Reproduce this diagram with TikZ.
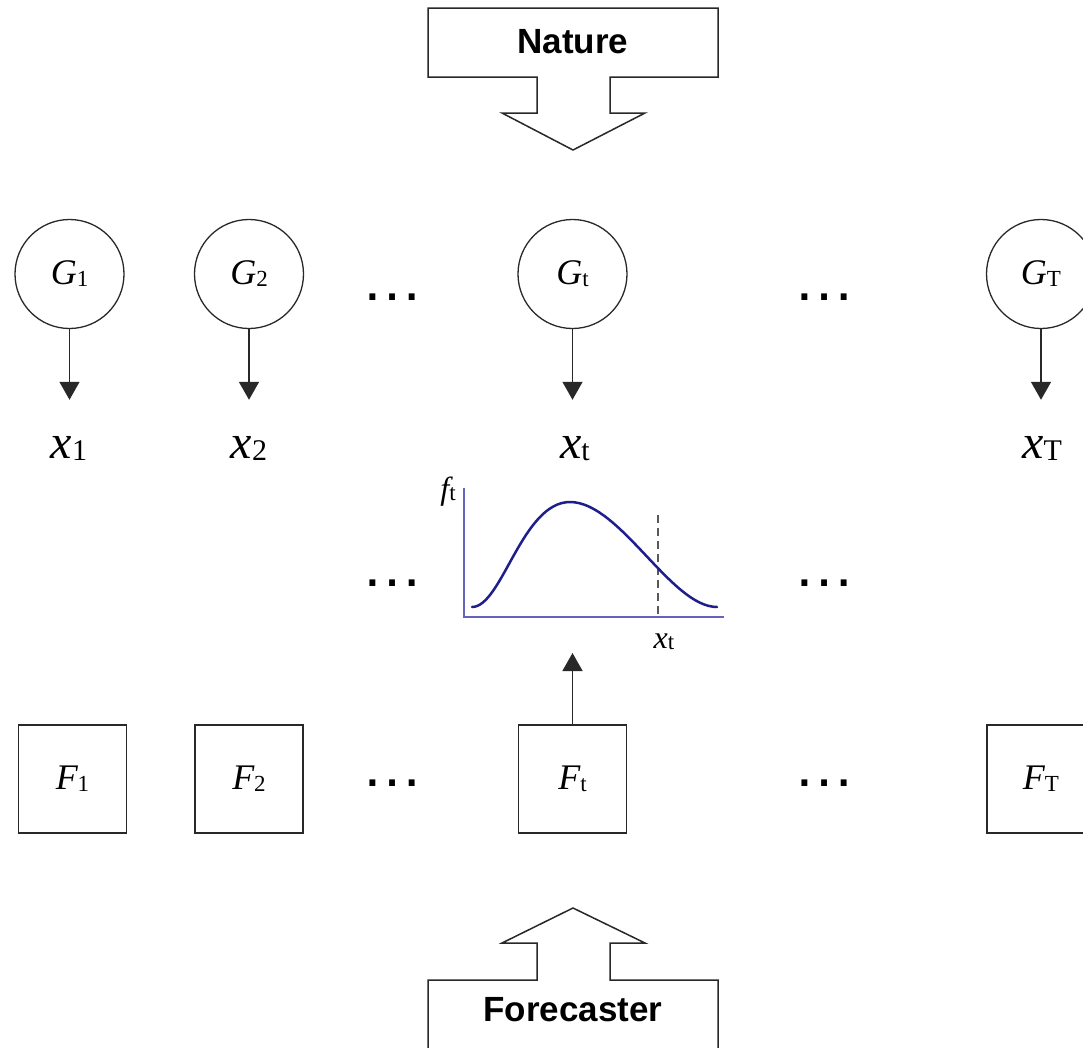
\documentclass[tikz,border=0pt]{standalone}
\usepackage{fontspec}
\setmainfont{Liberation Serif}
\newfontfamily\sansbold{Liberation Sans}
\usetikzlibrary{arrows.meta}
\newcommand{\bigsym}[2]{{\fontsize{48}{48}\selectfont\itshape #1}\raisebox{-2pt}{\fontsize{30}{30}\selectfont #2}}
\newcommand{\nodesym}[2]{{\fontsize{36}{36}\selectfont\itshape #1}\raisebox{-2pt}{\fontsize{23}{23}\selectfont #2}}
\newcommand{\smallsym}[2]{{\fontsize{32}{32}\selectfont\itshape #1}\raisebox{-1pt}{\fontsize{23}{23}\selectfont #2}}
\newcommand{\mydots}{{\sansbold\fontsize{62}{62}\selectfont …}}
\definecolor{axisblue}{RGB}{100,100,190}
\definecolor{curveblue}{RGB}{30,30,140}
\definecolor{linegray}{RGB}{40,40,40}
\tikzset{
  gnode/.style={circle, draw=linegray, line width=1.3pt, minimum size=109pt, inner sep=0pt},
  fnode/.style={rectangle, draw=linegray, line width=1.8pt, minimum size=108pt, inner sep=0pt},
  xlabel/.style={inner sep=0pt, anchor=base},
  dotsnode/.style={inner sep=0pt, anchor=base},
  arr/.style={line width=1.6pt, draw=linegray, -{Triangle[width=20pt,length=18pt]}},
  bigarrow/.style={draw=linegray, line width=1.5pt, fill=white, line join=miter},
  titletext/.style={font=\sansbold\bfseries\fontsize{35}{35}\selectfont, inner sep=0pt},
  axisline/.style={draw=axisblue, line width=2pt},
  curveline/.style={draw=curveblue, line width=2.5pt},
  dashline/.style={draw=black!65, line width=2pt, dash pattern=on 8pt off 5pt},
}
\begin{document}
\begin{tikzpicture}[x=1pt, y=-1pt]
\useasboundingbox (0,0) rectangle (1083,1047);
\clip (0,0) rectangle (1083,1047);
\fill[white] (0,0) rectangle (1083,1047);

% Nature block arrow
\draw[bigarrow] (428,8) -- (718,8) -- (718,77) -- (610,77) -- (610,113) -- (645,113)
  -- (573,150) -- (502,113) -- (537,113) -- (537,77) -- (428,77) -- cycle;
\node[titletext] (nature) at (573,42) {Nature};

% Forecaster block arrow
\draw[bigarrow] (428,1060) -- (428,980) -- (537,980) -- (537,943) -- (502,943)
  -- (573,908) -- (645,943) -- (610,943) -- (610,980) -- (718,980) -- (718,1060);
\node[titletext] (forecaster) at (573,1010) {Forecaster};

% G nodes
\node[gnode] (G1) at (69.5,274) {\nodesym{G}{1}};
\node[gnode] (G2) at (249,274) {\nodesym{G}{2}};
\node[gnode] (Gt) at (572.5,274) {\nodesym{G}{t}};
\node[gnode] (GT) at (1041,274) {\nodesym{G}{T}};

% x labels
\node[xlabel] (x1) at (69,458) {\bigsym{x}{1}};
\node[xlabel] (x2) at (249,458) {\bigsym{x}{2}};
\node[xlabel] (xt) at (575,458) {\bigsym{x}{t}};
\node[xlabel] (xT) at (1042,458) {\bigsym{x}{T}};

\draw[arr, shorten >=36pt] (G1.south) -- (G1.south |- x1.north);
\draw[arr, shorten >=36pt] (G2.south) -- (G2.south |- x2.north);
\draw[arr, shorten >=36pt] (Gt.south) -- (Gt.south |- xt.north);
\draw[arr, shorten >=36pt] (GT.south) -- (GT.south |- xT.north);

% dots
\node[dotsnode] (d1a) at (392,300) {\mydots};
\node[dotsnode] (d1b) at (824,300) {\mydots};
\node[dotsnode] (d2a) at (392,586) {\mydots};
\node[dotsnode] (d2b) at (824,586) {\mydots};
\node[dotsnode] (d3a) at (392,786) {\mydots};
\node[dotsnode] (d3b) at (824,786) {\mydots};

% density plot
\draw[axisline] (464,488) -- (464,617) -- (724,617);
\draw[dashline] (658,515) -- (658,617);
\draw[curveline, line cap=round] (472,607) .. controls (502,607) and (522,502) .. (570,502)
  .. controls (620,502) and (671,607) .. (717,607);
\node[xlabel] (ft) at (448,499) {\smallsym{f}{t}};
\node[xlabel] (xtp) at (664,648) {\smallsym{x}{t}};
\coordinate (plotbase) at (572.5,653);

% F nodes
\node[fnode] (F1) at (72.5,779) {\nodesym{F}{1}};
\node[fnode] (F2) at (249,779) {\nodesym{F}{2}};
\node[fnode] (Ft) at (572.5,779) {\nodesym{F}{t}};
\node[fnode] (FT) at (1041,779) {\nodesym{F}{T}};

\draw[arr] (Ft.north) -- (plotbase);
\end{tikzpicture}
\end{document}
